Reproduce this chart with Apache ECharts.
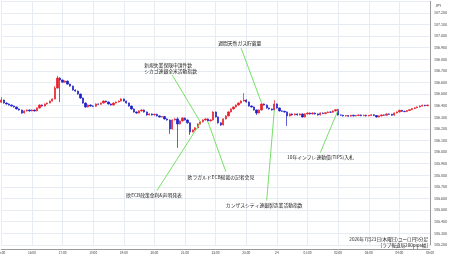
<!DOCTYPE html>
<html>
<head>
<meta charset="utf-8">
<script src="https://cdn.jsdelivr.net/npm/echarts@6/dist/echarts.min.js"></script>
<style>
html,body{margin:0;padding:0;background:#fff;}
#chart{width:450px;height:258px;}
</style>
</head>
<body>
<div id="chart"></div>
<script>
// Hour tick labels (one per 12 five-minute candles)
const hourLabels = ['15:00','16:00','17:00','18:00','19:00','20:00','21:00','22:00','23:00','24','01:00','02:00','03:00','04:00','05:00'];
const minuteSteps = ['00','05','10','15','20','25','30','35','40','45','50','55'];

// EUR/JPY 5-minute candles: [open, close, low, high]
const candles = [
[186.430,186.449,186.424,186.474],[186.449,186.423,186.418,186.452],[186.423,186.415,186.410,186.428],[186.415,186.406,186.401,186.419],
[186.406,186.397,186.392,186.410],[186.397,186.389,186.383,186.401],[186.389,186.372,186.367,186.392],[186.372,186.363,186.357,186.376],
[186.363,186.337,186.330,186.366],[186.337,186.355,186.333,186.360],[186.355,186.363,186.350,186.368],[186.363,186.355,186.349,186.367],
[186.355,186.363,186.351,186.369],[186.363,186.355,186.350,186.366],[186.355,186.380,186.352,186.385],[186.380,186.406,186.377,186.411],
[186.406,186.397,186.392,186.410],[186.397,186.415,186.394,186.419],[186.415,186.423,186.410,186.428],[186.423,186.440,186.420,186.445],
[186.440,186.458,186.436,186.463],[186.458,186.552,186.455,186.569],[186.552,186.638,186.548,186.658],[186.638,186.621,186.432,186.645],
[186.621,186.603,186.598,186.626],[186.603,186.612,186.599,186.617],[186.612,186.586,186.582,186.616],[186.586,186.569,186.564,186.590],
[186.569,186.535,186.530,186.573],[186.535,186.526,186.520,186.541],[186.526,186.500,186.495,186.530],[186.500,186.466,186.460,186.504],
[186.466,186.423,186.417,186.470],[186.423,186.389,186.383,186.427],[186.389,186.406,186.385,186.411],[186.406,186.397,186.392,186.410],
[186.397,186.395,186.389,186.403],[186.395,186.415,186.391,186.420],[186.415,186.412,186.407,186.419],[186.412,186.423,186.408,186.428],
[186.423,186.440,186.419,186.446],[186.440,186.432,186.427,186.444],[186.432,186.415,186.410,186.436],[186.415,186.406,186.401,186.419],
[186.406,186.423,186.402,186.428],[186.423,186.432,186.419,186.437],[186.432,186.440,186.428,186.445],[186.440,186.458,186.436,186.464],
[186.458,186.440,186.435,186.462],[186.440,186.423,186.418,186.444],[186.423,186.397,186.392,186.427],[186.397,186.372,186.366,186.401],
[186.372,186.346,186.340,186.376],[186.346,186.337,186.331,186.350],[186.337,186.355,186.333,186.360],[186.355,186.363,186.350,186.368],
[186.363,186.346,186.341,186.367],[186.346,186.320,186.314,186.350],[186.320,186.329,186.316,186.334],[186.329,186.320,186.315,186.333],
[186.320,186.326,186.316,186.331],[186.326,186.312,186.307,186.330],[186.312,186.303,186.298,186.316],[186.303,186.306,186.299,186.311],
[186.306,186.286,186.281,186.310],[186.286,186.277,186.271,186.290],[186.277,186.200,186.157,186.281],[186.200,186.277,186.195,186.282],
[186.277,186.286,186.272,186.291],[186.286,186.243,186.037,186.300],[186.243,186.269,186.238,186.274],[186.269,186.294,186.264,186.299],
[186.294,186.277,186.272,186.298],[186.277,186.252,186.246,186.281],[186.252,186.174,186.148,186.256],[186.174,186.191,186.169,186.196],
[186.191,186.209,186.186,186.214],[186.209,186.243,186.205,186.248],[186.243,186.260,186.238,186.265],[186.260,186.277,186.256,186.282],
[186.277,186.286,186.272,186.291],[186.286,186.269,186.264,186.290],[186.269,186.277,186.265,186.282],[186.277,186.346,186.273,186.352],
[186.346,186.303,186.298,186.350],[186.303,186.252,186.246,186.307],[186.252,186.234,186.226,186.256],[186.234,186.286,186.230,186.291],
[186.286,186.312,186.282,186.317],[186.312,186.346,186.308,186.351],[186.346,186.372,186.342,186.377],[186.372,186.389,186.368,186.394],
[186.389,186.406,186.385,186.411],[186.406,186.423,186.402,186.428],[186.423,186.440,186.419,186.446],[186.440,186.449,186.436,186.509],
[186.449,186.432,186.427,186.455],[186.432,186.397,186.392,186.436],[186.397,186.389,186.384,186.401],[186.389,186.363,186.358,186.393],
[186.363,186.337,186.320,186.367],[186.337,186.363,186.333,186.368],[186.363,186.415,186.359,186.420],[186.415,186.406,186.401,186.419],
[186.406,186.380,186.375,186.410],[186.380,186.372,186.366,186.384],[186.372,186.363,186.358,186.376],[186.363,186.415,186.359,186.449],
[186.415,186.380,186.375,186.419],[186.380,186.355,186.350,186.384],[186.355,186.352,186.346,186.360],[186.352,186.346,186.340,186.356],
[186.346,186.312,186.226,186.350],[186.312,186.329,186.308,186.334],[186.329,186.320,186.315,186.333],[186.320,186.329,186.316,186.334],
[186.329,186.320,186.315,186.333],[186.320,186.329,186.316,186.334],[186.329,186.303,186.298,186.333],[186.303,186.329,186.299,186.334],
[186.329,186.337,186.325,186.342],[186.337,186.329,186.324,186.341],[186.329,186.337,186.325,186.342],[186.337,186.329,186.324,186.341],
[186.329,186.320,186.315,186.333],[186.320,186.337,186.316,186.342],[186.337,186.332,186.327,186.341],[186.332,186.340,186.328,186.345],
[186.340,186.346,186.336,186.351],[186.346,186.344,186.339,186.350],[186.344,186.355,186.340,186.360],[186.355,186.366,186.351,186.370],
[186.366,186.320,186.315,186.372],[186.320,186.318,186.313,186.324],[186.318,186.312,186.307,186.322],[186.312,186.315,186.308,186.320],
[186.315,186.310,186.305,186.319],[186.310,186.318,186.306,186.322],[186.318,186.312,186.307,186.321],[186.312,186.315,186.308,186.320],
[186.315,186.320,186.311,186.325],[186.320,186.314,186.309,186.324],[186.314,186.318,186.310,186.323],[186.318,186.312,186.307,186.322],
[186.312,186.316,186.308,186.321],[186.316,186.322,186.312,186.327],[186.322,186.315,186.310,186.326],[186.315,186.303,186.298,186.319],
[186.303,186.312,186.299,186.317],[186.312,186.320,186.308,186.325],[186.320,186.318,186.313,186.324],[186.318,186.329,186.314,186.334],
[186.329,186.326,186.321,186.333],[186.326,186.318,186.313,186.330],[186.318,186.337,186.314,186.342],[186.337,186.346,186.333,186.351],
[186.346,186.360,186.342,186.365],[186.360,186.352,186.347,186.364],[186.352,186.349,186.344,186.356],[186.349,186.358,186.345,186.363],
[186.358,186.366,186.354,186.371],[186.366,186.375,186.362,186.380],[186.375,186.382,186.371,186.387],[186.382,186.389,186.378,186.394],
[186.389,186.397,186.385,186.402],[186.397,186.404,186.393,186.409],[186.404,186.400,186.395,186.408],[186.400,186.405,186.396,186.410]
];

// Event annotations: [candle index, price] anchors
const annotationTexts = ['新規失業保険申請件数\nシカゴ連銀全米活動指数','週間天然ガス貯蔵量','欧ECB政策金利&声明発表','欧ラガルドECB総裁の記者会見','カンザスシティ連銀製造業活動指数','10年インフレ連動債(TIPS)入札'];
const annotationLabelAt = [[56,186.724],[85,186.938],[49,185.625],[73,185.788],[88,185.539],[112,185.960]];
const annotationLineFrom = [[67,186.664],[94,186.895],[61,185.668],[88,185.831],[104,185.582],[125,185.994]];
const annotationLineTo = [[78,186.260],[102,186.423],[78,186.252],[81,186.260],[107,186.363],[132,186.363]];

const footerLines = ['2026年7月23日(木曜日)ユーロ円5分足','[ラブ報道局200pips幅]'];

// categories: 5-minute slots from 15:00 to 05:00
const categories = [];
for (let h = 0; h < hourLabels.length - 1; h++) {
  const base = hourLabels[h].split(':')[0];
  for (const m of minuteSteps) categories.push(base + ':' + m);
}
categories.push(hourLabels[hourLabels.length - 1]);

const FONT = '"Noto Sans CJK JP", "Noto Sans", sans-serif';
const chart = echarts.init(document.getElementById('chart'), null, {renderer: 'canvas'});
const tickEvery = function (idx) { return idx % 12 === 0; };

chart.setOption({
  animation: false,
  backgroundColor: '#ffffff',
  grid: {left: 1.3, right: 20, top: 1.3, bottom: 13.1, containLabel: false, outerBoundsMode: 'none'},
  xAxis: {
    type: 'category',
    data: categories,
    boundaryGap: false,
    offset: 4,
    axisLine: {show: true, lineStyle: {color: '#9a9a9a', width: 1}},
    axisTick: {show: false},
    axisLabel: {
      interval: tickEvery,
      margin: 2.5,
      fontSize: 3.2,
      color: '#444',
      fontFamily: FONT,
      formatter: function (v, idx) { return idx % 12 === 0 ? hourLabels[idx / 12] : ''; }
    },
    splitLine: {show: true, interval: tickEvery, lineStyle: {color: '#e6ecf2', width: 1}}
  },
  yAxis: {
    type: 'value',
    position: 'right',
    min: 185.2,
    max: 187.3,
    interval: 0.1,
    scale: true,
    axisLine: {show: true, lineStyle: {color: '#9a9a9a', width: 1}},
    axisTick: {show: false},
    axisLabel: {
      showMaxLabel: false,
      margin: 4,
      fontSize: 3.6,
      color: '#444',
      fontFamily: FONT,
      formatter: function (v) { return v.toFixed(3); }
    },
    splitLine: {show: true, lineStyle: {color: '#e6ecf2', width: 1}}
  },
  series: [{
    type: 'candlestick',
    data: candles,
    barWidth: 1.8,
    itemStyle: {
      color: '#e8202a',
      color0: '#2020c8',
      borderColor: '#e8202a',
      borderColor0: '#2020c8',
      borderWidth: 0.7
    }
  }]
});

function px(p) { return chart.convertToPixel({gridIndex: 0}, p); }

const graphics = [];
for (let k = 0; k < annotationTexts.length; k++) {
  const a = px(annotationLineFrom[k]);
  const b = px(annotationLineTo[k]);
  graphics.push({
    type: 'line', z: 100,
    shape: {x1: a[0], y1: a[1], x2: b[0], y2: b[1]},
    style: {stroke: '#66dd55', lineWidth: 0.9}
  });
  const t = px(annotationLabelAt[k]);
  graphics.push({
    type: 'text', z: 101,
    style: {
      text: annotationTexts[k], x: t[0], y: t[1],
      textAlign: 'left', textVerticalAlign: 'middle',
      font: '4.8px ' + FONT, fill: '#222', lineHeight: 6
    }
  });
}
graphics.push({
  type: 'text', z: 101,
  style: {text: 'JPY', x: 435, y: 6, textAlign: 'left', textVerticalAlign: 'middle', font: '3.6px ' + FONT, fill: '#444'}
});
graphics.push({
  type: 'text', z: 101,
  style: {text: footerLines[0], x: 428, y: 239, textAlign: 'right', textVerticalAlign: 'middle', font: '4.6px ' + FONT, fill: '#222'}
});
graphics.push({
  type: 'text', z: 101,
  style: {text: footerLines[1], x: 428, y: 245, textAlign: 'right', textVerticalAlign: 'middle', font: '4.6px ' + FONT, fill: '#222'}
});
chart.setOption({graphic: graphics});
</script>
</body>
</html>
